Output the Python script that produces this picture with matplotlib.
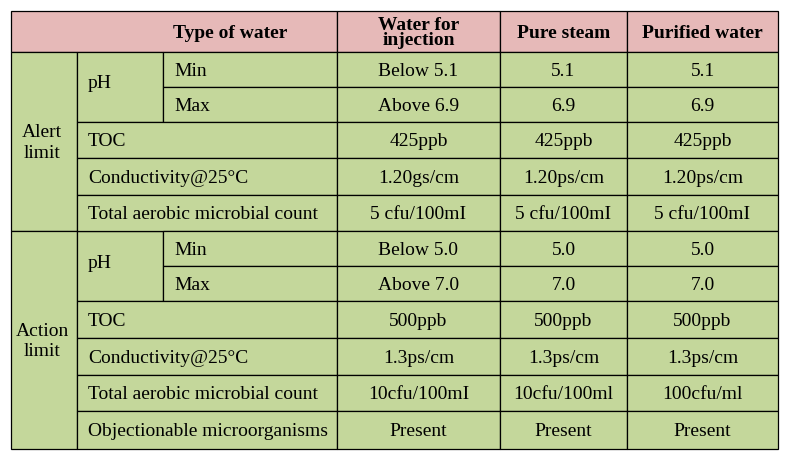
import matplotlib
matplotlib.use("Agg")
import matplotlib.pyplot as plt
from matplotlib.patches import Rectangle

headers = ["Type of water", "Water for\ninjection", "Pure steam", "Purified water"]
groups = ["Alert\nlimit", "Action\nlimit"]
row_labels = ["Min", "Max", "TOC", "Conductivity@25°C", "Total aerobic microbial count",
              "Min", "Max", "TOC", "Conductivity@25°C", "Total aerobic microbial count",
              "Objectionable microorganisms"]
wfi = ["Below 5.1", "Above 6.9", "425ppb", "1.20gs/cm", "5 cfu/100mI",
       "Below 5.0", "Above 7.0", "500ppb", "1.3ps/cm", "10cfu/100mI", "Present"]
steam = ["5.1", "6.9", "425ppb", "1.20ps/cm", "5 cfu/100mI",
         "5.0", "7.0", "500ppb", "1.3ps/cm", "10cfu/100ml", "Present"]
purified = ["5.1", "6.9", "425ppb", "1.20ps/cm", "5 cfu/100mI",
            "5.0", "7.0", "500ppb", "1.3ps/cm", "100cfu/ml", "Present"]

W, H = 787, 461
fig = plt.figure(figsize=(W/100, H/100), dpi=100)
ax = fig.add_axes([0, 0, 1, 1])
ax.set_xlim(0, W); ax.set_ylim(H, 0); ax.axis("off")
plt.rcParams["font.family"] = "Liberation Serif"

PINK = "#E6B9B8"; GREEN = "#C4D79B"
xs = [11, 77, 163, 337, 500, 627, 778]
ys = [11, 52, 87, 122, 158, 195, 231, 266, 301, 338, 375, 411, 449]
lw = 0.9
dy = 1.5

def cell(x0, y0, x1, y1, color):
    ax.add_patch(Rectangle((x0, y0), x1-x0, y1-y0, facecolor=color, edgecolor="black", lw=lw))

fs = 14
# header
cell(xs[0], ys[0], xs[3], ys[1], PINK)
ax.text(230, (ys[0]+ys[1])/2 + dy, headers[0], ha="center", va="center", fontsize=fs, fontweight="bold")
for i in range(3):
    cell(xs[3+i], ys[0], xs[4+i], ys[1], PINK)
    ax.text((xs[3+i]+xs[4+i])/2, (ys[0]+ys[1])/2 + dy, headers[1+i], ha="center", va="center",
            fontsize=fs, fontweight="bold", linespacing=0.85)

# groups
for g, (r0, r1) in enumerate([(1, 6), (6, 12)]):
    cell(xs[0], ys[r0], xs[1], ys[r1], GREEN)
    ax.text((xs[0]+xs[1])/2 - 2, (ys[r0]+ys[r1])/2 + dy, groups[g], ha="center", va="center",
            fontsize=fs, linespacing=1.3)
    cell(xs[1], ys[r0], xs[2], ys[r0+2], GREEN)
    ax.text(88, (ys[r0]+ys[r0+2])/2 - 3, "pH", ha="left", va="center", fontsize=fs)

vals = [wfi, steam, purified]
for r in range(11):
    y0, y1 = ys[r+1], ys[r+2]
    yc = (y0+y1)/2 + dy
    ph = r in (0, 1, 5, 6)
    lx0 = xs[2] if ph else xs[1]
    cell(lx0, y0, xs[3], y1, GREEN)
    ax.text(lx0 + 11, yc, row_labels[r], ha="left", va="center", fontsize=fs)
    for c in range(3):
        cell(xs[3+c], y0, xs[4+c], y1, GREEN)
        ax.text((xs[3+c]+xs[4+c])/2, yc, vals[c][r], ha="center", va="center", fontsize=fs)

fig.savefig("out.png", dpi=100, facecolor="white")
